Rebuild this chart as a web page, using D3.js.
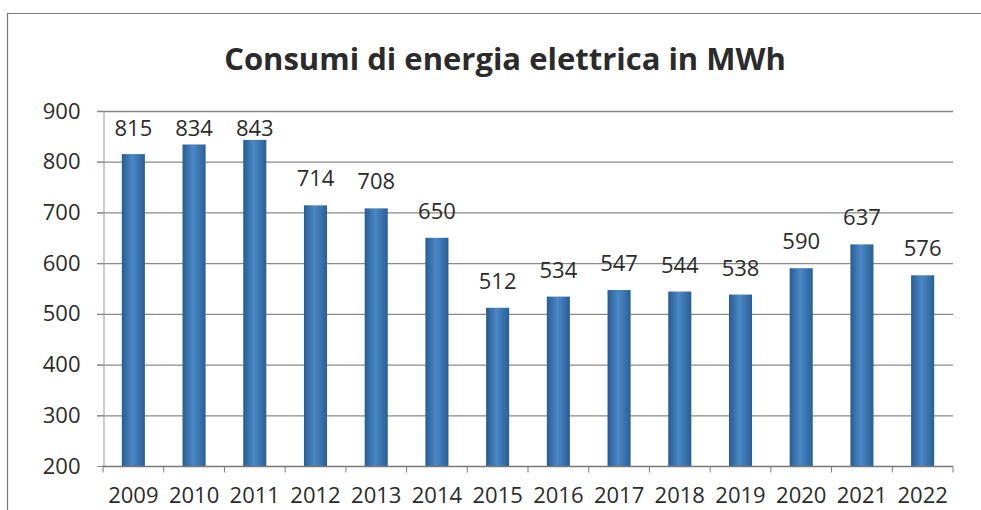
<!DOCTYPE html>
<html>
<head>
<meta charset="utf-8">
<script src="https://cdn.jsdelivr.net/npm/d3@7.9.0/dist/d3.min.js"></script>
<style>
  body { margin: 0; background: #fff; }
  text { font-family: "Open Sans", "Noto Sans", sans-serif; fill: #2b2b2b; }
</style>
</head>
<body>
<svg id="chart" width="981" height="510"></svg>
<script>
const years = ['2009', '2010', '2011', '2012', '2013', '2014', '2015', '2016', '2017', '2018', '2019', '2020', '2021', '2022'];
const consumi = [815, 834, 843, 714, 708, 650, 512, 534, 547, 544, 538, 590, 637, 576];
const yTicks = [200, 300, 400, 500, 600, 700, 800, 900];
const title = 'Consumi di energia elettrica in MWh';

const svg = d3.select('#chart');

// outer frame (top + left edge of the scanned box)
svg.append('path')
  .attr('d', 'M7.5,510 V13.5 H981')
  .attr('fill', 'none')
  .attr('stroke', '#777')
  .attr('stroke-width', 1.2);

const x = d3.scaleBand().domain(years).range([103, 953]).paddingInner(0.62).paddingOuter(0.31);
const y = d3.scaleLinear().domain([200, 900]).range([466, 111]);

// bar gradient, darker at the sides like the old Excel style
const grad = svg.append('defs').append('linearGradient')
  .attr('id', 'barGrad').attr('x1', '0%').attr('x2', '100%');
grad.append('stop').attr('offset', '0%').attr('stop-color', '#285c92');
grad.append('stop').attr('offset', '45%').attr('stop-color', '#4a88c6');
grad.append('stop').attr('offset', '100%').attr('stop-color', '#2a5f96');

// gridlines
svg.append('g')
  .selectAll('line')
  .data(yTicks.filter(t => t > 200))
  .join('line')
  .attr('x1', 97).attr('x2', 953)
  .attr('y1', d => y(d) + 0.5).attr('y2', d => y(d) + 0.5)
  .attr('stroke', '#8a8a8a').attr('stroke-width', 1.3);

// y axis
const yAxis = svg.append('g')
  .attr('transform', 'translate(103.5,0)')
  .call(d3.axisLeft(y).tickValues(yTicks).tickSize(6).tickPadding(17));
yAxis.select('.domain').attr('stroke', '#999');
yAxis.selectAll('.tick line').attr('stroke', '#888');
yAxis.selectAll('.tick text')
  .attr('font-size', 22).attr('fill', '#2b2b2b')
  .style('font-family', '"Open Sans", sans-serif');

// bars
svg.append('g')
  .selectAll('rect')
  .data(consumi)
  .join('rect')
  .attr('x', (d, i) => x(years[i]))
  .attr('width', x.bandwidth())
  .attr('y', d => y(d))
  .attr('height', d => y(200) - y(d))
  .attr('fill', 'url(#barGrad)');

// x axis, ticks between the categories
const xAxis = svg.append('g').attr('transform', 'translate(0,466.5)');
xAxis.append('line')
  .attr('x1', 103).attr('x2', 953)
  .attr('stroke', '#777').attr('stroke-width', 1.3);
const bounds = d3.range(years.length + 1).map(i => x.range()[0] + i * x.step());
xAxis.selectAll('line.tk')
  .data(bounds)
  .join('line').attr('class', 'tk')
  .attr('x1', d => d).attr('x2', d => d)
  .attr('y1', 0).attr('y2', 6)
  .attr('stroke', '#777');
xAxis.selectAll('text')
  .data(years)
  .join('text')
  .attr('x', d => x(d) + x.bandwidth() / 2)
  .attr('y', 36)
  .attr('text-anchor', 'middle')
  .attr('font-size', 22)
  .text(d => d);

// value labels (kept inside the plot area at the top)
svg.append('g')
  .selectAll('text')
  .data(consumi)
  .join('text')
  .attr('x', (d, i) => x(years[i]) + x.bandwidth() / 2)
  .attr('y', d => Math.max(y(d) - 19, 136))
  .attr('text-anchor', 'middle')
  .attr('font-size', 22)
  .text(d => d);

// title
svg.append('text')
  .attr('x', 505)
  .attr('y', 70)
  .attr('text-anchor', 'middle')
  .attr('font-size', 31)
  .attr('font-weight', 'bold')
  .attr('fill', '#262626')
  .text(title);
</script>
</body>
</html>
